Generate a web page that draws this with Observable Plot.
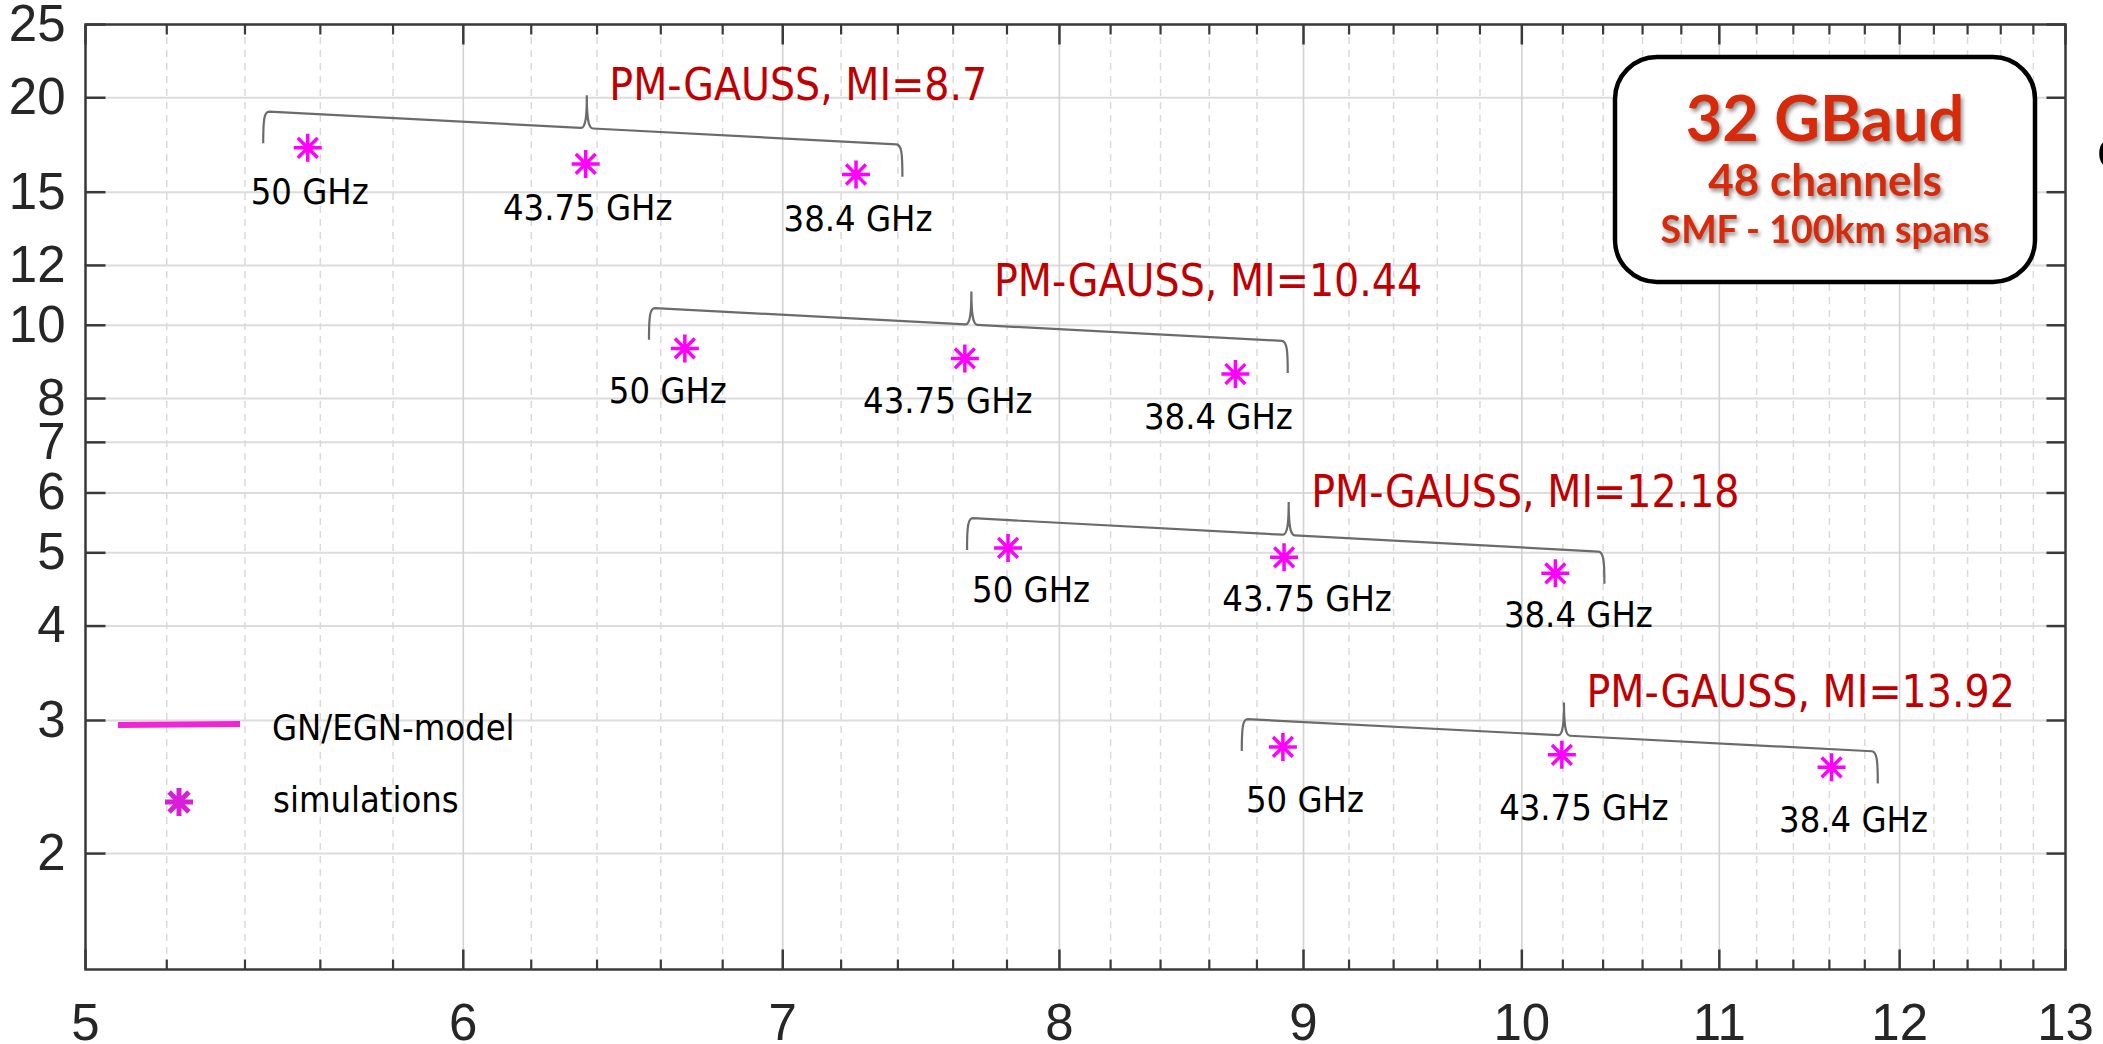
<!DOCTYPE html>
<html>
<head>
<meta charset="utf-8">
<script src="https://cdn.jsdelivr.net/npm/d3@7"></script>
<script src="https://cdn.jsdelivr.net/npm/@observablehq/plot@0.6"></script>
<style>
  html, body { margin: 0; padding: 0; background: #fff; overflow: hidden; }
  #chart svg { display: block; }
</style>
</head>
<body>
<div id="chart"></div>
<script>
// ---------------- data ----------------
const spacingLabels = ["50 GHz", "43.75 GHz", "38.4 GHz"];
const miValues = [8.7, 10.44, 12.18, 13.92];

// simulation points (x, y) per MI group, in order 50 / 43.75 / 38.4 GHz
const simX_MI87   = [5.566, 6.365, 7.252];
const simY_MI87   = [17.17, 16.35, 15.83];
const simX_MI1044 = [6.677, 7.643, 8.709];
const simY_MI1044 = [9.32, 9.04, 8.62];
const simX_MI1218 = [7.804, 8.916, 10.163];
const simY_MI1218 = [5.075, 4.932, 4.697];
const simX_MI1392 = [8.911, 10.195, 11.612];
const simY_MI1392 = [2.768, 2.702, 2.601];

// curly braces above each group (data coordinates)
const braceX1    = [5.449, 6.564, 7.653, 8.738];
const braceX2    = [7.418, 8.934, 10.409, 11.877];
const braceY1    = [19.16, 10.53, 5.553, 3.010];
const braceY2    = [17.31, 9.515, 5.007, 2.725];
const braceXPeak = [6.370, 7.669, 8.938, 10.208];

const xTicks = [5, 6, 7, 8, 9, 10, 11, 12, 13];
const xMinorTicks = [5.2, 5.4, 5.6, 5.8, 6.2, 6.4, 6.6, 6.8, 7.2, 7.4, 7.6, 7.8,
  8.2, 8.4, 8.6, 8.8, 9.2, 9.4, 9.6, 9.8, 10.2, 10.4, 10.6, 10.8,
  11.2, 11.4, 11.6, 11.8, 12.2, 12.4, 12.6, 12.8];
const yTicks = [2, 3, 4, 5, 6, 7, 8, 10, 12, 15, 20, 25];
const xDomain = [5, 13];
const yDomain = [1.405, 25];

const legendLabels = ["GN/EGN-model", "simulations"];
const boxLines = ["32 GBaud", "48 channels", "SMF - 100km spans"];

// ---------------- styles ----------------
const NARROW = "'Liberation Sans Narrow', 'Arial Narrow', 'DejaVu Sans Condensed', 'Roboto Condensed', sans-serif";
const AXISFONT = "'Liberation Sans', Arial, Helvetica, sans-serif";
const BOXFONT = "Lato, 'Open Sans', sans-serif";
const MAGENTA = "#ff00ff";
const DARKRED = "#c00000";
const FRAME = "#3a3a3a";
const labelDx = [2, -17, 23, 22];
const labelDy = [56, 55, 54, 65];

// ---------------- tables ----------------
const simXs = [simX_MI87, simX_MI1044, simX_MI1218, simX_MI1392];
const simYs = [simY_MI87, simY_MI1044, simY_MI1218, simY_MI1392];
const points = simXs.flatMap((xs, g) => xs.map((x, i) => ({group: g, x, y: simYs[g][i], label: spacingLabels[i]})));

const groupTable = miValues.map((m, i) => {
  const t = (Math.log(braceXPeak[i]) - Math.log(braceX1[i])) / (Math.log(braceX2[i]) - Math.log(braceX1[i]));
  const yp = Math.exp(Math.log(braceY1[i]) + t * (Math.log(braceY2[i]) - Math.log(braceY1[i])));
  return {xp: braceXPeak[i], yp, label: `PM-GAUSS, MI=${m}`};
});

// ---------------- symbols ----------------
const asterisk8 = {
  draw(ctx, size) {
    const r = Math.sqrt(size / Math.PI);
    const d = r * Math.SQRT1_2;
    ctx.moveTo(0, -r); ctx.lineTo(0, r);
    ctx.moveTo(-r, 0); ctx.lineTo(r, 0);
    ctx.moveTo(-d, -d); ctx.lineTo(d, d);
    ctx.moveTo(-d, d); ctx.lineTo(d, -d);
  }
};
const tickSym = (dx, dy) => ({draw(ctx) { ctx.moveTo(0, 0); ctx.lineTo(dx, dy); }});

// ---------------- custom render marks ----------------
function braceMark(index, scales) {
  const {x, y} = scales;
  const g = d3.create("svg:g").attr("fill", "none").attr("stroke", "#6b6b6b").attr("stroke-width", 2.2);
  for (let i = 0; i < braceX1.length; ++i) {
    const x1 = x(braceX1[i]), x2 = x(braceX2[i]), y1 = y(braceY1[i]), y2 = y(braceY2[i]), xp = x(braceXPeak[i]);
    const yl = (t) => y1 + (y2 - y1) * (t - x1) / (x2 - x1);
    const H = 32, P = 33, w = 6, pw = 6;
    const d = `M${x1},${yl(x1) + H}`
      + ` C${x1},${yl(x1) + H * 0.25} ${x1 + 1},${yl(x1 + w)} ${x1 + w},${yl(x1 + w)}`
      + ` L${xp - pw},${yl(xp - pw)}`
      + ` C${xp - 1},${yl(xp)} ${xp},${yl(xp) - P * 0.4} ${xp},${yl(xp) - P}`
      + ` C${xp},${yl(xp) - P * 0.4} ${xp + 1},${yl(xp)} ${xp + pw},${yl(xp + pw)}`
      + ` L${x2 - w},${yl(x2 - w)}`
      + ` C${x2 - 1},${yl(x2)} ${x2},${yl(x2) + H * 0.25} ${x2},${yl(x2) + H}`;
    g.append("path").attr("d", d);
  }
  return g.node();
}

function legendMark() {
  const g = d3.create("svg:g");
  g.append("line").attr("x1", 118).attr("x2", 240).attr("y1", 725).attr("y2", 724)
    .attr("stroke", "#f025d5").attr("stroke-width", 6);
  g.append("path").attr("transform", "translate(179,802)")
    .attr("d", d3.symbol(asterisk8, Math.PI * 14 * 14)())
    .attr("fill", "none").attr("stroke", "#d81ed8").attr("stroke-width", 5);
  const t = g.append("g").attr("font-family", NARROW).attr("font-size", 36)
    .attr("fill", "#000").attr("text-anchor", "start");
  t.append("text").attr("x", 272).attr("y", 740).text(legendLabels[0]);
  t.append("text").attr("x", 273).attr("y", 812).text(legendLabels[1]);
  return g.node();
}

function boxMark() {
  const g = d3.create("svg:g");
  g.append("rect").attr("x", 1615).attr("y", 57).attr("width", 420).attr("height", 225)
    .attr("rx", 42).attr("ry", 42).attr("fill", "#fff").attr("stroke", "#000").attr("stroke-width", 4.5);
  const t = g.append("g").attr("font-family", BOXFONT).attr("font-weight", 700)
    .attr("fill", "#d62a0b").attr("text-anchor", "middle")
    .style("filter", "drop-shadow(2px 3px 2px rgba(0,0,0,0.45))");
  t.append("text").attr("x", 1825).attr("y", 141).attr("font-size", 63).text(boxLines[0]);
  t.append("text").attr("x", 1825).attr("y", 196).attr("font-size", 44).text(boxLines[1]);
  t.append("text").attr("x", 1825).attr("y", 243).attr("font-size", 37.5).text(boxLines[2]);
  g.append("text").attr("x", 2097).attr("y", 167).attr("text-anchor", "start")
    .attr("font-family", AXISFONT).attr("font-size", 52).attr("fill", "#000").text("e");
  return g.node();
}

// ---------------- plot ----------------
const starLabelMarks = [0, 1, 2, 3].map(gi =>
  Plot.text(points.filter(p => p.group === gi), {
    x: "x", y: "y", text: "label", dx: labelDx[gi], dy: labelDy[gi],
    lineAnchor: "bottom", fontSize: 36, fill: "#000", fontFamily: NARROW
  })
);

const chart = Plot.plot({
  width: 2103,
  height: 1044,
  marginLeft: 85,
  marginRight: 38,
  marginTop: 24,
  marginBottom: 75,
  x: {type: "log", domain: xDomain, axis: null},
  y: {type: "log", domain: yDomain, axis: null},
  style: {background: "#fff", overflow: "visible"},
  marks: [
    Plot.ruleY(yTicks, {stroke: "#dcdcdc", strokeWidth: 2}),
    Plot.ruleX(xMinorTicks, {stroke: "#dadada", strokeWidth: 1.5, strokeDasharray: "7,6"}),
    Plot.ruleX(xTicks, {stroke: "#d2d2d2", strokeWidth: 1.6}),
    Plot.frame({stroke: FRAME, strokeWidth: 2.5}),
    // inward ticks
    Plot.dot(yTicks, {x: xDomain[0], y: d => d, symbol: tickSym(20, 0), stroke: FRAME, strokeWidth: 2.5, fill: "none"}),
    Plot.dot(yTicks, {x: xDomain[1], y: d => d, symbol: tickSym(-19, 0), stroke: FRAME, strokeWidth: 2.5, fill: "none"}),
    Plot.dot(xTicks, {x: d => d, y: yDomain[0], symbol: tickSym(0, -20), stroke: FRAME, strokeWidth: 2.5, fill: "none"}),
    Plot.dot(xTicks, {x: d => d, y: yDomain[1], symbol: tickSym(0, 20), stroke: FRAME, strokeWidth: 2.5, fill: "none"}),
    Plot.dot(xMinorTicks, {x: d => d, y: yDomain[0], symbol: tickSym(0, -10), stroke: FRAME, strokeWidth: 2.2, fill: "none"}),
    Plot.dot(xMinorTicks, {x: d => d, y: yDomain[1], symbol: tickSym(0, 10), stroke: FRAME, strokeWidth: 2.2, fill: "none"}),
    // tick labels
    Plot.text(yTicks, {x: xDomain[0], y: d => d, text: d => String(d), dx: -20, textAnchor: "end",
      fontSize: 51, fill: "#262626", fontFamily: AXISFONT}),
    Plot.text(xTicks, {x: d => d, y: yDomain[0], text: d => String(d), dy: 70, lineAnchor: "bottom",
      fontSize: 51, fill: "#262626", fontFamily: AXISFONT}),
    // braces + group labels
    braceMark,
    Plot.text(groupTable, {x: "xp", y: "yp", text: "label", dx: 22, dy: -29, textAnchor: "start",
      lineAnchor: "bottom", fontSize: 44, fill: DARKRED, fontFamily: NARROW}),
    // simulation stars
    Plot.dot(points, {x: "x", y: "y", symbol: asterisk8, r: 14, stroke: MAGENTA, strokeWidth: 3.5, fill: "none"}),
    ...starLabelMarks,
    legendMark,
    boxMark
  ]
});

document.getElementById("chart").appendChild(chart);
</script>
</body>
</html>
